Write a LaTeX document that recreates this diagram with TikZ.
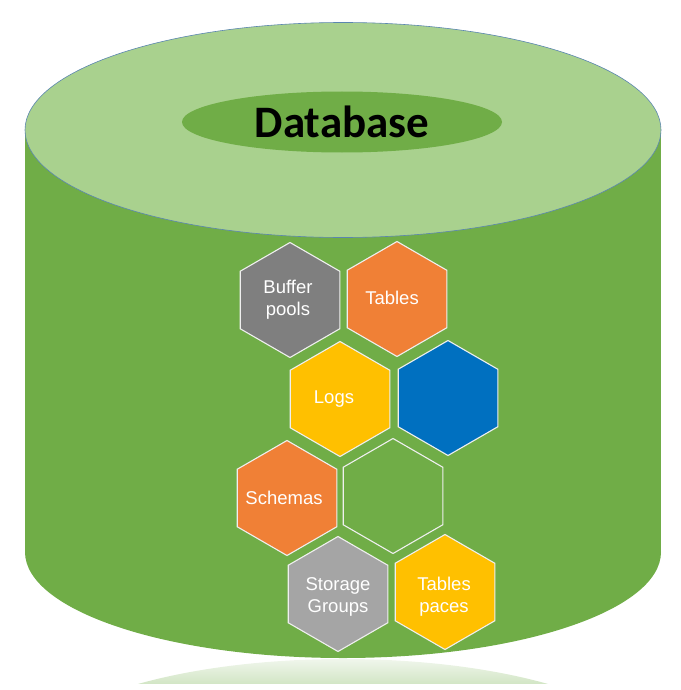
\documentclass[tikz,border=0pt]{standalone}
\usepackage{fontspec}
\setmainfont{Liberation Sans}
\newfontfamily\dbfont{Carlito}
\usetikzlibrary{shapes.geometric}
\definecolor{bodygreen}{HTML}{70AD47}
\definecolor{topgreen}{HTML}{A9D18E}
\definecolor{rimblue}{HTML}{5B86B0}
\definecolor{hexgrayA}{HTML}{7F7F7F}
\definecolor{hexgrayB}{HTML}{A5A5A5}
\definecolor{hexorange}{HTML}{F08036}
\definecolor{hexyellow}{HTML}{FFC000}
\definecolor{hexblue}{HTML}{0070C0}
\definecolor{hexline}{HTML}{EFEFEF}
\definecolor{refltop}{HTML}{F0F6EC}
\definecolor{reflbot}{HTML}{D3E6C6}
\tikzset{
  hexa/.style={regular polygon, regular polygon sides=6, shape border rotate=30,
    minimum size=115pt, inner sep=0pt, draw=hexline, line width=1.1pt},
  hexlbl/.style={text=white, align=center, inner sep=0pt,
    font=\fontsize{18.5}{22}\selectfont},
}
\begin{document}
\begin{tikzpicture}[x=1pt,y=-1pt]
\useasboundingbox (0,0) rectangle (680,690);
% reflection
\begin{scope}
  \clip (343,765) ellipse [x radius=318, y radius=106];
  \shade[top color=refltop, bottom color=reflbot] (0,659) rectangle (680,683);
\end{scope}
% cylinder body
\fill[bodygreen] (25,130) rectangle (661,552);
\fill[bodygreen] (343,552) ellipse [x radius=318, y radius=106];
% top
\draw[fill=topgreen, draw=rimblue, line width=0.6pt] (343,130) ellipse [x radius=318, y radius=107.5];
\node[ellipse, fill=bodygreen, minimum width=320pt, minimum height=61pt, inner sep=0pt,
  font=\dbfont\bfseries\fontsize{45}{50}\selectfont] (db) at (342,122) {Database};
% hexagons
\node[hexa, fill=hexgrayA] (bp) at (290,300) {};
\node[hexa, fill=hexorange] (tb) at (397,299) {};
\node[hexa, fill=hexyellow] (lg) at (340,399) {};
\node[hexa, fill=hexblue] (bl) at (448,398) {};
\node[hexa, fill=hexorange] (sc) at (287,498) {};
\node[hexa, fill=bodygreen] (em) at (393,496) {};
\node[hexa, fill=hexgrayB] (sg) at (338,594) {};
\node[hexa, fill=hexyellow] (ts) at (445,592) {};
% labels
\node[hexlbl] (bpt) at (288,300) {Buffer\\pools};
\node[hexlbl] (tbt) at (392,298) {Tables};
\node[hexlbl] (lgt) at (334,399) {Logs};
\node[hexlbl] (sct) at (284,498) {Schemas};
\node[hexlbl] (sgt) at (338,597) {Storage\\Groups};
\node[hexlbl] (tst) at (444,597) {Tables\\paces};
\end{tikzpicture}
\end{document}
